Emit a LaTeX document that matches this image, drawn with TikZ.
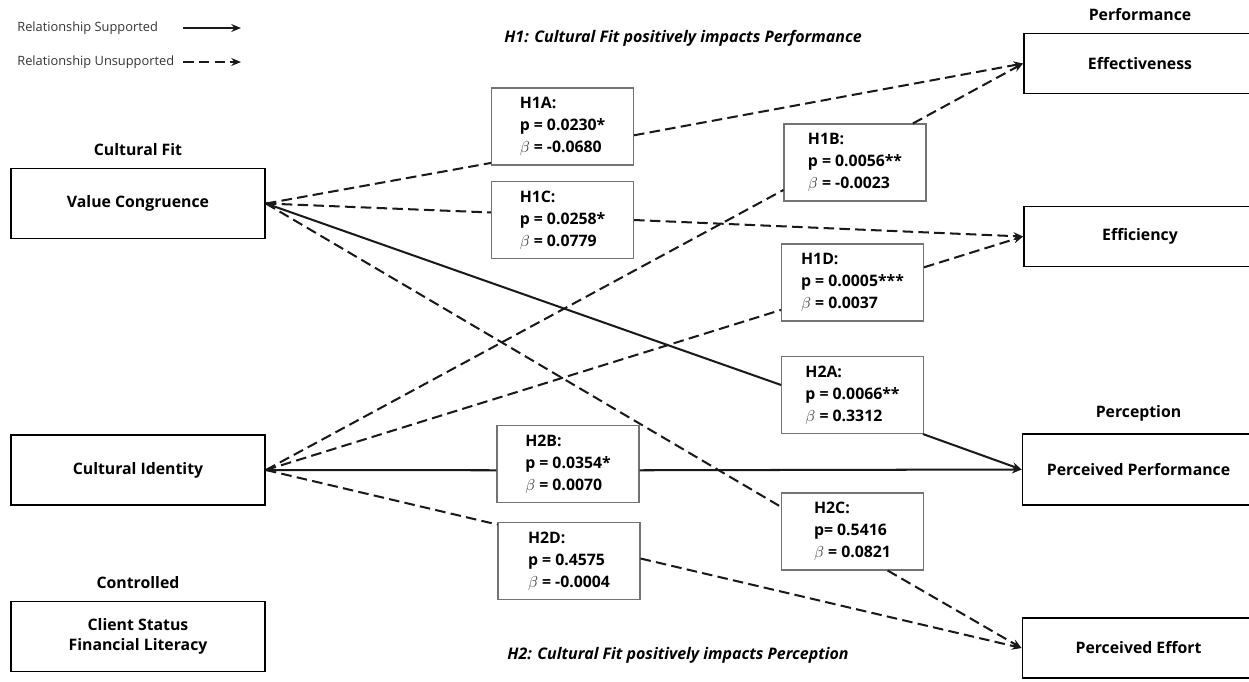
\documentclass[tikz,border=0pt]{standalone}
\usepackage{fontspec}
\setmainfont{Open Sans}
\usepackage{xcolor}
\usepackage{tikz}
\usetikzlibrary{arrows.meta,positioning}

\newcommand{\bt}{\textcolor{black!75}{$\beta$}}

\tikzset{
    factor/.style={draw=black, line width=1.1pt, minimum width=5.08cm, minimum height=1.4cm,
        align=center, font=\bfseries\fontsize{9}{11.5}\selectfont},
    outcome/.style={factor, minimum width=4.64cm, minimum height=1.2cm},
    hyp/.style={draw=black!55, line width=0.6pt, fill=white, minimum width=2.84cm,
        minimum height=1.54cm, align=left, font=\bfseries\fontsize{9}{12.5}\selectfont},
    heading/.style={above=3pt, font=\bfseries\fontsize{9}{11}\selectfont},
    legendtext/.style={right, inner sep=0pt, text=black!80, font=\fontsize{7.3}{9}\selectfont},
    supp/.style={line width=1.15pt, draw=black!90},
    unsupp/.style={supp, dash pattern=on 6pt off 3pt},
}

\begin{document}
\begin{tikzpicture}[x=0.02cm, y=-0.02cm, >={Stealth[length=5.5pt,width=4.5pt]}]
    \useasboundingbox (0,0) rectangle (1249,681);

    % legend
    \node[legendtext] (lsup) at (17,28) {Relationship Supported};
    \node[legendtext] (lunsup) at (17,62) {Relationship Unsupported};
    \coordinate (lsupa) at (183,28);
    \coordinate (lsupb) at (241,28);
    \coordinate (lunsupa) at (183,62);
    \coordinate (lunsupb) at (241,62);
    \draw[supp,->] (lsupa) -- (lsupb);
    \draw[unsupp,->] (lunsupa) -- (lunsupb);

    \node[font=\bfseries\itshape\fontsize{9.1}{11}\selectfont] (titleh1) at (683,38) {H1: Cultural Fit positively impacts Performance};
    \node[font=\bfseries\itshape\fontsize{9.1}{11}\selectfont] (titleh2) at (678,655) {H2: Cultural Fit positively impacts Perception};

    % left side
    \node[factor] (vc) at (138,203.5) {Value Congruence};
    \node[factor] (ci) at (138,470) {Cultural Identity};
    \node[factor] (cs) at (138,636.5) {Client Status\\Financial Literacy};
    \node[heading] at (vc.north) {Cultural Fit};
    \node[heading] at (cs.north) {Controlled};

    % right side
    \node[outcome] (eff) at (1140,63.5) {Effectiveness};
    \node[outcome] (effi) at (1140,236.5) {Efficiency};
    \node[outcome, minimum height=1.42cm] (pp) at (1138.5,469.5) {Perceived Performance};
    \node[outcome] (pe) at (1138.5,648) {Perceived Effort};
    \node[heading] at (eff.north) {Performance};
    \node[heading] at (pp.north) {Perception};

    % hypotheses
    \node[hyp] (h1a) at (562.5,126.5) {H1A:\\p = 0.0230*\\\bt{} = -0.0680};
    \node[hyp] (h1c) at (562.5,220) {H1C:\\p = 0.0258*\\\bt{} = 0.0779};
    \node[hyp] (h1b) at (855,162.5) {H1B:\\p = 0.0056**\\\bt{} = -0.0023};
    \node[hyp] (h1d) at (852.5,282.5) {H1D:\\p = 0.0005***\\\bt{} = 0.0037};
    \node[hyp] (h2a) at (852.5,395) {H2A:\\p = 0.0066**\\\bt{} = 0.3312};
    \node[hyp] (h2b) at (568,464) {H2B:\\p = 0.0354*\\\bt{} = 0.0070};
    \node[hyp] (h2d) at (569,561) {H2D:\\p = 0.4575\\\bt{} =\ -0.0004};
    \node[hyp] (h2c) at (852.5,531.5) {H2C:\\p= 0.5416\\\bt{} = 0.0821};

    % value congruence paths
    \draw[unsupp] (vc.east) -- (h1a.207);
    \draw[unsupp,->] (h1a.353) -- (eff.west);
    \draw[unsupp] (vc.east) -- (h1c.174);
    \draw[unsupp,->] (h1c.east) -- (effi.west);
    \draw[supp] (vc.east) -- (h2a.172);
    \draw[supp,->] (h2a.331) -- (pp.west);
    \draw[unsupp] (vc.east) -- (h2c.161);
    \draw[unsupp,->] (h2c.312) -- (pe.west);

    % cultural identity paths
    \draw[unsupp] (ci.east) -- (h1b.201);
    \draw[unsupp,->] (h1b.34) -- (eff.west);
    \draw[unsupp] (ci.east) -- (h1d.201);
    \draw[unsupp,->] (h1d.12) -- (effi.west);
    \draw[supp] (ci.east) -- (h2b.185);
    \draw[supp,->] (h2b.355) -- (pp.west);
    \draw[unsupp] (ci.east) -- (h2d.153);
    \draw[unsupp,->] (h2d.2) -- (pe.west);
\end{tikzpicture}
\end{document}
